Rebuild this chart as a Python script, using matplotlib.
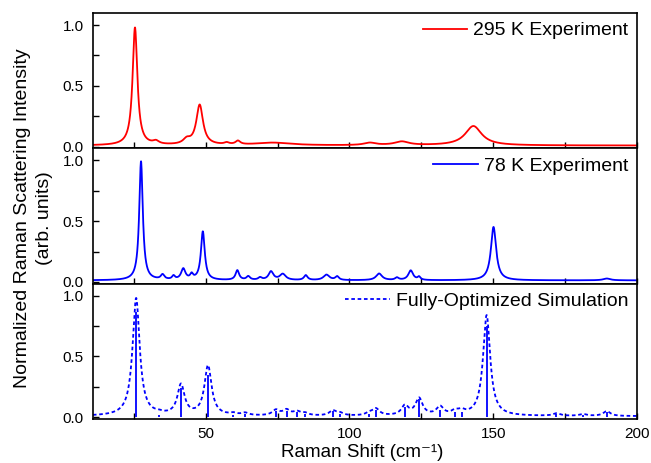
import numpy as np
import matplotlib
matplotlib.use("Agg")
import matplotlib.pyplot as plt
from matplotlib.ticker import MultipleLocator

plt.rcParams['font.family'] = ['Liberation Sans', 'DejaVu Sans']

# ---- data (peak lists) ----
# 295 K experiment: positions (cm-1), heights, FWHM
rt_pos = [25.4, 32.7, 43.4, 47.9, 57.3, 61.2, 73.4, 107.1, 118.2, 143.1]
rt_amp = [0.97, 0.025, 0.04, 0.33, 0.015, 0.03, 0.022, 0.02, 0.03, 0.16]
rt_fwhm = [2.0, 2.5, 3.0, 2.8, 2.0, 2.0, 15.0, 5.0, 6.0, 7.0]
rt_base = 0.008

# 78 K experiment
lt_pos = [27.5, 35.0, 38.8, 42.2, 45.1, 49.0, 61.0, 64.8, 68.9, 72.7,
          76.8, 84.8, 92.0, 95.7, 110.3, 116.5, 121.3, 124.2, 150.1, 189.5]
lt_amp = [0.98, 0.04, 0.03, 0.09, 0.04, 0.40, 0.08, 0.03, 0.02, 0.07,
          0.05, 0.04, 0.045, 0.03, 0.055, 0.02, 0.08, 0.025, 0.44, 0.015]
lt_fwhm = [1.5, 1.5, 1.2, 1.8, 1.2, 1.6, 1.5, 1.5, 1.5, 2.0,
           2.5, 1.5, 2.5, 1.5, 2.5, 1.5, 2.0, 1.2, 2.2, 3.0]
lt_base = 0.012

# Fully-optimized simulation: stick positions, broadened amplitudes, stick heights
sim_pos = [25.8, 33.7, 41.4, 50.8, 59.6, 63.7, 74.4, 78.1, 81.7, 84.5, 94.2, 96.7,
           106.9, 109.2, 119.3, 124.2, 131.5, 136.7, 139.0, 147.7, 172.0, 181.2, 189.5]
sim_amp = [0.97, 0.01, 0.25, 0.41, 0.015, 0.02, 0.045, 0.045, 0.03, 0.02, 0.04, 0.02,
           0.02, 0.055, 0.08, 0.14, 0.07, 0.03, 0.03, 0.83, 0.02, 0.015, 0.04]
sim_stick = [0.87, 0.02, 0.24, 0.35, 0.02, 0.03, 0.05, 0.05, 0.04, 0.03, 0.05, 0.03,
             0.03, 0.06, 0.08, 0.15, 0.06, 0.04, 0.04, 0.75, 0.03, 0.02, 0.04]
sim_fwhm = 3.0
sim_base = 0.008

labels = ["295 K Experiment", "78 K Experiment", "Fully-Optimized Simulation"]
x_ticks = [50, 100, 150, 200]
y_ticks = [0.0, 0.5, 1.0]


def lorentz_sum(x, pos, amp, fwhm, base):
    y = np.full_like(x, base)
    fw = np.broadcast_to(np.asarray(fwhm, float), (len(pos),))
    for p, a, w in zip(pos, amp, fw):
        y += a / (1.0 + ((x - p) / (w / 2.0)) ** 2)
    return y


x = np.linspace(10, 201, 3000)
y_rt = lorentz_sum(x, rt_pos, rt_amp, rt_fwhm, rt_base)
y_lt = lorentz_sum(x, lt_pos, lt_amp, lt_fwhm, lt_base)
y_sim = lorentz_sum(x, sim_pos, sim_amp, sim_fwhm, sim_base)

fig = plt.figure(figsize=(6.51, 4.63), dpi=100)
left, right, top, bottom = 93 / 651, 637 / 651, 1 - 13 / 463, 1 - 419 / 463
h = (top - bottom) / 3
axes = [fig.add_axes([left, top - (i + 1) * h, right - left, h]) for i in range(3)]

red = '#ff0000'
blue = '#0000ff'
axes[0].plot(x, y_rt, color=red, lw=1.3, label=labels[0])
axes[1].plot(x, y_lt, color=blue, lw=1.3, label=labels[1])
axes[2].plot(x, y_sim, color=blue, lw=1.3, ls=(0, (2.0, 1.5)), label=labels[2])
axes[2].vlines(sim_pos, 0, sim_stick, color=blue, lw=1.3)

for i, ax in enumerate(axes):
    ax.set_xlim(10.8, 200)
    ax.set_ylim(-0.015, 1.1)
    ax.set_yticks(y_ticks)
    ax.yaxis.set_minor_locator(MultipleLocator(0.25))
    ax.set_xticks(x_ticks)
    ax.xaxis.set_minor_locator(MultipleLocator(25))
    ax.tick_params(which='both', direction='in', length=4.5, width=1.0,
                   top=False, right=False, labelsize=11, pad=6.5)
    ax.tick_params(axis='x', pad=5.5)
    for s in ax.spines.values():
        s.set_linewidth(1.2)
    if i < 2:
        ax.tick_params(labelbottom=False)
    ax.legend(loc='upper right', frameon=False, fontsize=14,
              handlelength=2.3, handletextpad=0.3,
              borderpad=0.15, borderaxespad=0.3)

fig.text(0.557, 1 - 457 / 463, "Raman Shift (cm\u207b\u00b9)", fontsize=13.5,
         ha='center', va='baseline')
fig.text(33.5 / 651, 1 - 218.5 / 463, "Normalized Raman Scattering Intensity\n(arb. units)",
         rotation=90, ha='center', va='center', fontsize=14, multialignment='center',
         linespacing=1.35)

fig.savefig("out.png", dpi=100)
